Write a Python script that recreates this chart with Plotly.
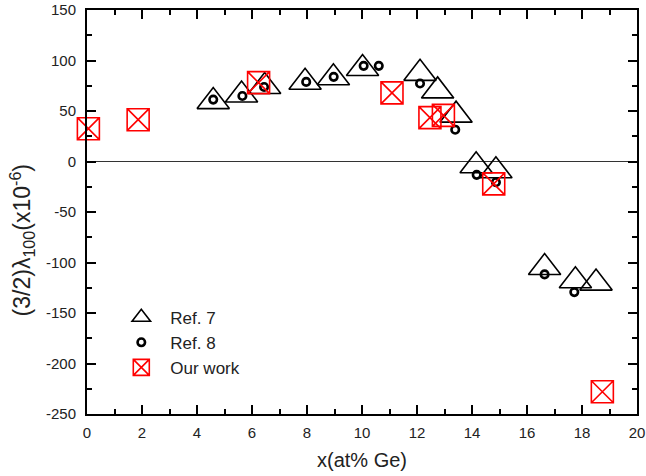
import plotly.graph_objects as go

# Ref. 7 (triangles)
ref7_x = [4.59, 5.62, 6.46, 7.93, 8.96, 10.02, 12.11, 12.75, 13.42, 14.15, 14.87, 16.64, 17.76, 18.51]
ref7_y = [59.3, 65.9, 74.2, 78.4, 82.9, 92.1, 87.3, 69.9, 45.9, -4.2, -9.2, -105.0, -118.1, -120.4]

# Ref. 8 (circles)
ref8_x = [4.59, 5.65, 6.44, 7.97, 8.97, 10.06, 10.61, 12.11, 13.39, 14.17, 14.87, 16.64, 17.72]
ref8_y = [61.3, 64.9, 73.8, 78.8, 83.8, 94.7, 94.7, 77.2, 31.5, -13.2, -20.5, -111.8, -129.3]

# Our work (crossed squares)
our_x = [0.05, 1.86, 6.24, 11.09, 12.47, 12.96, 14.79, 18.74]
our_y = [32.5, 41.4, 78.1, 67.9, 43.4, 45.7, -22.2, -228.0]

x_ticks = [0, 2, 4, 6, 8, 10, 12, 14, 16, 18, 20]
y_ticks = [-250, -200, -150, -100, -50, 0, 50, 100, 150]

FONT = "Liberation Sans, Arial, sans-serif"
TXT = "#222"

fig = go.Figure()
fig.add_trace(go.Scatter(
    x=ref7_x, y=ref7_y, mode="markers", name="Ref. 7",
    marker=dict(symbol="triangle-up-open", size=28, color="black",
                line=dict(width=1.6, color="black")),
    cliponaxis=False,
))
fig.add_trace(go.Scatter(
    x=ref8_x, y=ref8_y, mode="markers", name="Ref. 8",
    marker=dict(symbol="circle-open", size=7.5, color="black",
                line=dict(width=2.6, color="black")),
    cliponaxis=False,
))
fig.add_trace(go.Scatter(
    x=our_x, y=our_y, mode="markers", name="Our work",
    marker=dict(symbol="square-x-open", size=22, color="red",
                line=dict(width=1.6, color="red")),
    cliponaxis=False,
))

axis_common = dict(
    showline=True, linecolor="black", linewidth=2, mirror="ticks",
    ticks="inside", ticklen=9, tickwidth=1.6, tickcolor="black",
    showgrid=False, automargin=False,
    tickfont=dict(family=FONT, size=15, color=TXT),
)

fig.update_xaxes(
    range=[0, 20], tickvals=x_ticks, ticktext=[str(v) for v in x_ticks],
    minor=dict(dtick=1, ticks="inside", ticklen=5, tickwidth=1.6, tickcolor="black"),
    zeroline=False, ticklabelstandoff=4,
    title=dict(text="x(at% Ge)", font=dict(family=FONT, size=20, color=TXT), standoff=13),
    **axis_common,
)
fig.update_yaxes(
    range=[-250, 150], tickvals=y_ticks, ticktext=[str(v) for v in y_ticks],
    minor=dict(dtick=25, ticks="inside", ticklen=5, tickwidth=1.6, tickcolor="black"),
    zeroline=True, zerolinecolor="#333", zerolinewidth=1, ticklabelstandoff=6,
    **axis_common,
)

# y-axis title placed as in the reference (slightly below the axis centre)
fig.add_annotation(
    text="(3/2)λ<sub>100</sub>(x10<sup>-6</sup>)",
    xref="paper", yref="paper", x=-0.118, y=0.43,
    xanchor="center", yanchor="middle", textangle=-90, showarrow=False,
    font=dict(family=FONT, size=23, color=TXT),
)

fig.update_layout(
    width=646, height=476,
    margin=dict(l=87, r=9, t=10, b=62),
    paper_bgcolor="white", plot_bgcolor="white",
    showlegend=True,
    legend=dict(
        x=0.046, y=0.283, xanchor="left", yanchor="top",
        font=dict(family=FONT, size=17, color=TXT),
        bgcolor="rgba(0,0,0,0)", itemwidth=48, tracegroupgap=0,
    ),
)

fig.write_html("out.html", config={"displayModeBar": False},
               post_script="document.body.style.margin='0px';")
